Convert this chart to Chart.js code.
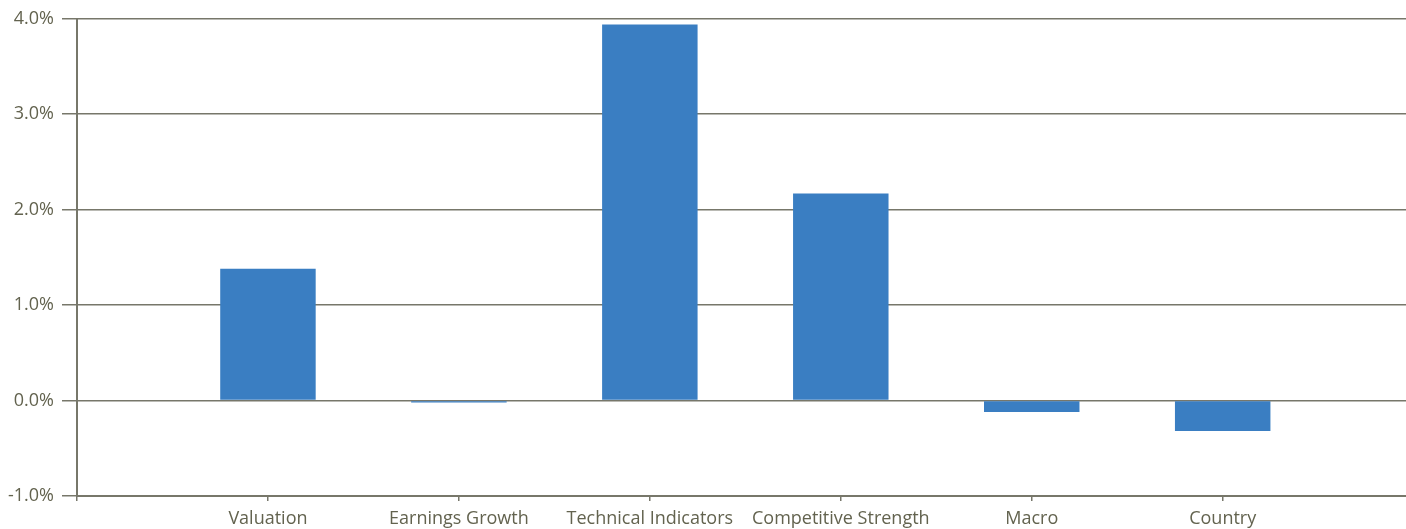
<!DOCTYPE html>
<html>
<head>
<meta charset="utf-8">
<script src="https://cdn.jsdelivr.net/npm/chart.js@4"></script>
<style>
    html, body { margin: 0; padding: 0; background: #fff; overflow: hidden; }
    #wrap { width: 1406px; height: 529px; }
</style>
</head>
<body>
<div id="wrap"><canvas id="factorChart" width="1406" height="529"></canvas></div>
<script>
// ------- chart data -----------
const categories = ['Valuation', 'Earnings Growth', 'Technical Indicators', 'Competitive Strength', 'Macro', 'Country'];
const contribution = [1.38, -0.02, 3.94, 2.17, -0.12, -0.32]; // in percent
const yTicks = [-1, 0, 1, 2, 3, 4];

const lineColor = '#77776a';
const textColor = '#63634f';
const barColor = '#3a7ec2';

// bars sit at x = 1..6, the y axis is at x = 0
const points = contribution.map((v, i) => ({ x: i + 1, y: v }));

const ctx = document.getElementById('factorChart');
const factorChart = new Chart(ctx, {
    type: 'bar',
    data: {
        datasets: [{
            data: points,
            backgroundColor: barColor,
            borderWidth: 0,
            barPercentage: 0.5,
            categoryPercentage: 1
        }]
    },
    options: {
        responsive: false,
        maintainAspectRatio: false,
        animation: false,
        layout: { padding: { top: 15, right: 0, left: 0, bottom: 0 } },
        plugins: {
            legend: { display: false },
            tooltip: { enabled: false }
        },
        scales: {
            x: {
                type: 'linear',
                offset: false,
                min: 0,
                max: 6.96,
                afterBuildTicks: scale => {
                    scale.ticks = [0, 1, 2, 3, 4, 5, 6].map(v => ({ value: v }));
                },
                afterFit: scale => { scale.height = 33; },
                grid: {
                    offset: false,
                    drawOnChartArea: false,
                    drawTicks: true,
                    tickLength: 5,
                    color: lineColor,
                    lineWidth: 1.5
                },
                border: { display: true, color: lineColor, width: 2 },
                ticks: {
                    stepSize: 1,
                    autoSkip: false,
                    maxRotation: 0,
                    padding: 7,
                    color: textColor,
                    font: { family: 'Open Sans', size: 18 },
                    callback: v => categories[v - 1] || ''
                }
            },
            y: {
                min: -1,
                max: 4,
                afterBuildTicks: scale => {
                    scale.ticks = yTicks.map(v => ({ value: v }));
                },
                afterFit: scale => { scale.width = 77; },
                grid: {
                    color: lineColor,
                    lineWidth: 1.5,
                    tickLength: 15
                },
                border: { display: true, color: lineColor, width: 2 },
                ticks: {
                    padding: 8,
                    color: textColor,
                    font: { family: 'Open Sans', size: 18 },
                    callback: v => v.toFixed(1) + '%'
                }
            }
        }
    }
});
</script>
</body>
</html>
